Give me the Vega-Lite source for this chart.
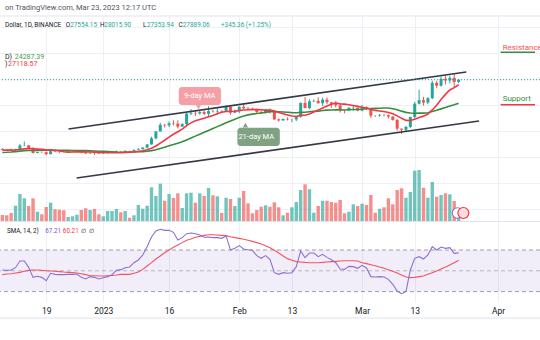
{
"$schema":"https://vega.github.io/schema/vega-lite/v6.json",
"width":540,"height":286,"autosize":"none",
"padding":{"top":16,"left":0,"right":0,"bottom":38},
"background":"#ffffff",
"config":{"view":{"stroke":null},"font":"Roboto","text":{"font":"Roboto"}},
"datasets":{
"one":[{}],
"ohlc":[
{"d":"2022-12-09","o":17227,"h":17360,"l":17061,"c":17127,"v":60,"m9":17034,"m21":16701,"r":50.8,"rm":46.3},
{"d":"2022-12-10","o":17128,"h":17227,"l":17087,"c":17120,"v":57,"m9":17050,"m21":16721,"r":50.4,"rm":46.9},
{"d":"2022-12-11","o":17120,"h":17270,"l":17071,"c":17085,"v":80,"m9":17050,"m21":16760,"r":50.8,"rm":47.2},
{"d":"2022-12-12","o":17085,"h":17241,"l":16871,"c":17209,"v":153,"m9":17086,"m21":16828,"r":53.0,"rm":47.9},
{"d":"2022-12-13","o":17209,"h":18000,"l":17081,"c":17775,"v":270,"m9":17160,"m21":16901,"r":59.4,"rm":48.5},
{"d":"2022-12-14","o":17775,"h":18387,"l":17660,"c":17803,"v":227,"m9":17253,"m21":16959,"r":59.4,"rm":49.5},
{"d":"2022-12-15","o":17803,"h":17846,"l":17275,"c":17356,"v":150,"m9":17283,"m21":16995,"r":53.3,"rm":50.4},
{"d":"2022-12-16","o":17356,"h":17531,"l":16527,"c":16632,"v":227,"m9":17260,"m21":17000,"r":43.7,"rm":50.8},
{"d":"2022-12-17","o":16632,"h":16796,"l":16584,"c":16776,"v":93,"m9":17210,"m21":17015,"r":44.7,"rm":50.8},
{"d":"2022-12-18","o":16776,"h":16864,"l":16663,"c":16738,"v":67,"m9":17167,"m21":17030,"r":43.7,"rm":50.4},
{"d":"2022-12-19","o":16738,"h":16820,"l":16256,"c":16438,"v":140,"m9":17090,"m21":17041,"r":40.5,"rm":50.1},
{"d":"2022-12-20","o":16438,"h":17061,"l":16398,"c":16895,"v":183,"m9":17069,"m21":17062,"r":47.6,"rm":49.8},
{"d":"2022-12-21","o":16895,"h":16918,"l":16735,"c":16824,"v":117,"m9":17026,"m21":17046,"r":46.6,"rm":49.5},
{"d":"2022-12-22","o":16824,"h":16868,"l":16559,"c":16821,"v":113,"m9":16920,"m21":17038,"r":46.3,"rm":49.2},
{"d":"2022-12-23","o":16821,"h":16955,"l":16755,"c":16778,"v":107,"m9":16806,"m21":17023,"r":46.3,"rm":48.8},
{"d":"2022-12-24","o":16778,"h":16869,"l":16765,"c":16837,"v":40,"m9":16749,"m21":17021,"r":46.6,"rm":48.5},
{"d":"2022-12-25","o":16837,"h":16869,"l":16733,"c":16842,"v":47,"m9":16772,"m21":17009,"r":46.6,"rm":48.2},
{"d":"2022-12-26","o":16842,"h":16944,"l":16789,"c":16919,"v":63,"m9":16788,"m21":17006,"r":46.9,"rm":47.9},
{"d":"2022-12-27","o":16919,"h":16972,"l":16592,"c":16706,"v":110,"m9":16784,"m21":16988,"r":43.7,"rm":47.2},
{"d":"2022-12-28","o":16706,"h":16785,"l":16465,"c":16547,"v":127,"m9":16797,"m21":16974,"r":42.1,"rm":46.3},
{"d":"2022-12-29","o":16547,"h":16664,"l":16488,"c":16633,"v":110,"m9":16767,"m21":16946,"r":44.4,"rm":45.3},
{"d":"2022-12-30","o":16633,"h":16677,"l":16333,"c":16607,"v":120,"m9":16743,"m21":16921,"r":43.7,"rm":45.3},
{"d":"2022-12-31","o":16607,"h":16644,"l":16470,"c":16542,"v":67,"m9":16712,"m21":16893,"r":42.1,"rm":45.0},
{"d":"2023-01-01","o":16542,"h":16628,"l":16499,"c":16616,"v":47,"m9":16694,"m21":16871,"r":43.4,"rm":45.0},
{"d":"2023-01-02","o":16616,"h":16799,"l":16548,"c":16673,"v":100,"m9":16676,"m21":16846,"r":44.4,"rm":45.3},
{"d":"2023-01-03","o":16673,"h":16779,"l":16600,"c":16679,"v":100,"m9":16658,"m21":16793,"r":46.3,"rm":45.6},
{"d":"2023-01-04","o":16679,"h":17000,"l":16647,"c":16850,"v":120,"m9":16650,"m21":16748,"r":50.4,"rm":46.0},
{"d":"2023-01-05","o":16850,"h":16887,"l":16754,"c":16831,"v":87,"m9":16664,"m21":16723,"r":51.1,"rm":46.6},
{"d":"2023-01-06","o":16831,"h":17041,"l":16679,"c":16951,"v":100,"m9":16709,"m21":16738,"r":53.0,"rm":46.6},
{"d":"2023-01-07","o":16951,"h":16975,"l":16908,"c":16946,"v":33,"m9":16744,"m21":16746,"r":53.7,"rm":46.6},
{"d":"2023-01-08","o":16946,"h":17176,"l":16912,"c":17091,"v":57,"m9":16798,"m21":16763,"r":57.8,"rm":47.6},
{"d":"2023-01-09","o":17091,"h":17398,"l":17091,"c":17196,"v":160,"m9":16870,"m21":16799,"r":60.4,"rm":48.8},
{"d":"2023-01-10","o":17196,"h":17499,"l":17161,"c":17446,"v":123,"m9":16963,"m21":16825,"r":65.2,"rm":51.4},
{"d":"2023-01-11","o":17446,"h":17992,"l":17315,"c":17934,"v":153,"m9":17103,"m21":16878,"r":73.2,"rm":54.6},
{"d":"2023-01-12","o":17934,"h":19117,"l":17892,"c":18869,"v":337,"m9":17346,"m21":16976,"r":82.5,"rm":57.8},
{"d":"2023-01-13","o":18869,"h":19974,"l":18713,"c":19930,"v":250,"m9":17688,"m21":17126,"r":88.3,"rm":61.3},
{"d":"2023-01-14","o":19930,"h":21258,"l":19889,"c":20954,"v":373,"m9":18146,"m21":17322,"r":89.9,"rm":64.2},
{"d":"2023-01-15","o":20954,"h":21050,"l":20551,"c":20871,"v":203,"m9":18582,"m21":17514,"r":88.9,"rm":67.4},
{"d":"2023-01-16","o":20871,"h":21474,"l":20611,"c":21185,"v":270,"m9":19053,"m21":17717,"r":88.9,"rm":70.0},
{"d":"2023-01-17","o":21185,"h":21647,"l":20841,"c":21133,"v":230,"m9":19502,"m21":17928,"r":87.0,"rm":72.6},
{"d":"2023-01-18","o":21133,"h":21650,"l":20407,"c":20677,"v":277,"m9":19889,"m21":18125,"r":79.6,"rm":74.8},
{"d":"2023-01-19","o":20677,"h":21192,"l":20659,"c":21071,"v":130,"m9":20292,"m21":18336,"r":81.9,"rm":77.1},
{"d":"2023-01-20","o":21071,"h":22755,"l":20861,"c":22667,"v":277,"m9":20817,"m21":18624,"r":85.7,"rm":79.3},
{"d":"2023-01-21","o":22667,"h":23372,"l":22422,"c":22783,"v":283,"m9":21252,"m21":18922,"r":86.3,"rm":80.6},
{"d":"2023-01-22","o":22783,"h":23078,"l":22292,"c":22707,"v":183,"m9":21561,"m21":19212,"r":85.7,"rm":82.2},
{"d":"2023-01-23","o":22707,"h":23180,"l":22500,"c":22916,"v":277,"m9":21779,"m21":19509,"r":84.4,"rm":83.1},
{"d":"2023-01-24","o":22916,"h":23162,"l":22462,"c":22633,"v":250,"m9":21975,"m21":19793,"r":82.2,"rm":84.1},
{"d":"2023-01-25","o":22633,"h":23816,"l":22293,"c":23060,"v":330,"m9":22183,"m21":20088,"r":82.5,"rm":84.7},
{"d":"2023-01-26","o":23060,"h":23282,"l":22850,"c":23009,"v":257,"m9":22391,"m21":20382,"r":81.9,"rm":84.7},
{"d":"2023-01-27","o":23009,"h":23500,"l":22534,"c":23074,"v":247,"m9":22658,"m21":20674,"r":81.9,"rm":84.4},
{"d":"2023-01-28","o":23074,"h":23189,"l":22878,"c":23022,"v":80,"m9":22875,"m21":20963,"r":81.2,"rm":84.1},
{"d":"2023-01-29","o":23022,"h":23960,"l":22978,"c":23743,"v":233,"m9":22994,"m21":21280,"r":83.5,"rm":83.8},
{"d":"2023-01-30","o":23743,"h":23800,"l":22500,"c":22827,"v":220,"m9":22999,"m21":21548,"r":70.0,"rm":82.8},
{"d":"2023-01-31","o":22827,"h":23320,"l":22715,"c":23125,"v":150,"m9":23045,"m21":21819,"r":71.6,"rm":81.9},
{"d":"2023-02-01","o":23125,"h":23812,"l":22760,"c":23732,"v":233,"m9":23136,"m21":22095,"r":74.2,"rm":81.2},
{"d":"2023-02-02","o":23732,"h":24255,"l":23363,"c":23488,"v":300,"m9":23231,"m21":22315,"r":71.0,"rm":80.3},
{"d":"2023-02-03","o":23488,"h":23715,"l":23204,"c":23431,"v":177,"m9":23272,"m21":22481,"r":70.3,"rm":79.3},
{"d":"2023-02-04","o":23431,"h":23587,"l":23253,"c":23326,"v":77,"m9":23308,"m21":22594,"r":69.7,"rm":78.3},
{"d":"2023-02-05","o":23326,"h":23433,"l":22745,"c":22932,"v":110,"m9":23292,"m21":22692,"r":64.6,"rm":77.1},
{"d":"2023-02-06","o":22932,"h":23158,"l":22628,"c":22762,"v":143,"m9":23263,"m21":22768,"r":62.0,"rm":75.8},
{"d":"2023-02-07","o":22762,"h":23350,"l":22745,"c":23240,"v":157,"m9":23207,"m21":22868,"r":64.6,"rm":74.2},
{"d":"2023-02-08","o":23240,"h":23452,"l":22665,"c":22963,"v":143,"m9":23222,"m21":22977,"r":61.0,"rm":72.2},
{"d":"2023-02-09","o":22963,"h":23011,"l":21688,"c":21796,"v":187,"m9":23074,"m21":23011,"r":48.2,"rm":69.7},
{"d":"2023-02-10","o":21796,"h":21939,"l":21451,"c":21625,"v":137,"m9":22840,"m21":22962,"r":46.6,"rm":67.1},
{"d":"2023-02-11","o":21625,"h":21906,"l":21599,"c":21862,"v":57,"m9":22660,"m21":22918,"r":48.2,"rm":64.2},
{"d":"2023-02-12","o":21862,"h":22090,"l":21630,"c":21783,"v":83,"m9":22477,"m21":22874,"r":47.6,"rm":61.7},
{"d":"2023-02-13","o":21783,"h":21894,"l":21351,"c":21790,"v":137,"m9":22306,"m21":22820,"r":48.2,"rm":60.1},
{"d":"2023-02-14","o":21790,"h":22319,"l":21532,"c":22199,"v":190,"m9":22224,"m21":22799,"r":54.0,"rm":58.8},
{"d":"2023-02-15","o":22199,"h":24380,"l":22047,"c":24324,"v":310,"m9":22398,"m21":22860,"r":69.0,"rm":58.5},
{"d":"2023-02-16","o":24324,"h":25250,"l":23505,"c":23517,"v":367,"m9":22429,"m21":22884,"r":62.6,"rm":58.1},
{"d":"2023-02-17","o":23517,"h":24867,"l":23339,"c":24569,"v":317,"m9":22607,"m21":22955,"r":67.1,"rm":57.8},
{"d":"2023-02-18","o":24569,"h":24877,"l":24450,"c":24631,"v":83,"m9":22922,"m21":23032,"r":67.1,"rm":57.8},
{"d":"2023-02-19","o":24631,"h":25192,"l":24192,"c":24271,"v":150,"m9":23216,"m21":23057,"r":63.6,"rm":57.8},
{"d":"2023-02-20","o":24271,"h":25121,"l":23840,"c":24827,"v":203,"m9":23546,"m21":23152,"r":65.8,"rm":58.1},
{"d":"2023-02-21","o":24827,"h":25126,"l":24149,"c":24436,"v":203,"m9":23840,"m21":23214,"r":62.9,"rm":58.5},
{"d":"2023-02-22","o":24436,"h":24476,"l":23574,"c":24188,"v":190,"m9":24107,"m21":23236,"r":60.7,"rm":58.8},
{"d":"2023-02-23","o":24188,"h":24600,"l":23608,"c":23947,"v":183,"m9":24301,"m21":23258,"r":57.8,"rm":59.1},
{"d":"2023-02-24","o":23947,"h":24132,"l":22841,"c":23198,"v":210,"m9":24176,"m21":23247,"r":51.7,"rm":59.4},
{"d":"2023-02-25","o":23198,"h":23219,"l":22722,"c":23175,"v":77,"m9":24138,"m21":23240,"r":51.4,"rm":59.7},
{"d":"2023-02-26","o":23175,"h":23689,"l":23059,"c":23561,"v":93,"m9":24026,"m21":23270,"r":54.3,"rm":59.7},
{"d":"2023-02-27","o":23561,"h":23879,"l":23106,"c":23590,"v":167,"m9":23910,"m21":23309,"r":54.0,"rm":59.7},
{"d":"2023-02-28","o":23590,"h":23600,"l":23020,"c":23147,"v":150,"m9":23785,"m21":23305,"r":52.4,"rm":59.4},
{"d":"2023-03-01","o":23147,"h":24000,"l":23021,"c":23646,"v":173,"m9":23654,"m21":23337,"r":55.3,"rm":57.8},
{"d":"2023-03-02","o":23646,"h":23780,"l":23195,"c":23475,"v":160,"m9":23547,"m21":23417,"r":52.7,"rm":56.9},
{"d":"2023-03-03","o":23475,"h":23479,"l":22000,"c":22362,"v":260,"m9":23345,"m21":23452,"r":44.4,"rm":55.9},
{"d":"2023-03-04","o":22362,"h":22410,"l":22156,"c":22354,"v":83,"m9":23168,"m21":23476,"r":44.0,"rm":54.9},
{"d":"2023-03-05","o":22354,"h":22614,"l":22199,"c":22436,"v":123,"m9":23083,"m21":23507,"r":44.4,"rm":53.7},
{"d":"2023-03-06","o":22436,"h":22603,"l":22258,"c":22429,"v":137,"m9":23000,"m21":23537,"r":44.0,"rm":52.4},
{"d":"2023-03-07","o":22429,"h":22555,"l":21928,"c":22216,"v":227,"m9":22851,"m21":23538,"r":41.8,"rm":51.1},
{"d":"2023-03-08","o":22216,"h":22268,"l":21580,"c":21705,"v":167,"m9":22641,"m21":23413,"r":37.0,"rm":49.5},
{"d":"2023-03-09","o":21705,"h":21834,"l":20042,"c":20363,"v":310,"m9":22332,"m21":23263,"r":30.6,"rm":47.9},
{"d":"2023-03-10","o":20363,"h":20367,"l":19549,"c":20187,"v":327,"m9":21947,"m21":23055,"r":28.0,"rm":46.0},
{"d":"2023-03-11","o":20187,"h":20792,"l":19903,"c":20633,"v":233,"m9":21632,"m21":22864,"r":29.9,"rm":44.0},
{"d":"2023-03-12","o":20633,"h":22185,"l":20446,"c":22163,"v":290,"m9":21610,"m21":22764,"r":50.8,"rm":43.4},
{"d":"2023-03-13","o":22163,"h":24500,"l":21918,"c":24198,"v":503,"m9":21814,"m21":22734,"r":62.0,"rm":43.7},
{"d":"2023-03-14","o":24198,"h":26386,"l":24081,"c":24746,"v":510,"m9":22071,"m21":22748,"r":63.6,"rm":44.4},
{"d":"2023-03-15","o":24746,"h":25250,"l":23896,"c":24375,"v":333,"m9":22287,"m21":22757,"r":61.3,"rm":45.0},
{"d":"2023-03-16","o":24375,"h":25196,"l":24123,"c":25055,"v":233,"m9":22603,"m21":22810,"r":65.2,"rm":46.6},
{"d":"2023-03-17","o":25055,"h":27756,"l":24885,"c":27423,"v":390,"m9":23238,"m21":23011,"r":73.2,"rm":48.2},
{"d":"2023-03-18","o":27423,"h":27725,"l":26578,"c":26965,"v":243,"m9":23972,"m21":23192,"r":70.0,"rm":49.8},
{"d":"2023-03-19","o":26965,"h":28390,"l":26827,"c":28038,"v":260,"m9":24844,"m21":23405,"r":72.9,"rm":51.7},
{"d":"2023-03-20","o":28038,"h":28528,"l":27156,"c":27767,"v":277,"m9":25637,"m21":23604,"r":71.6,"rm":53.7},
{"d":"2023-03-21","o":27767,"h":28500,"l":27325,"c":28175,"v":267,"m9":26305,"m21":23843,"r":72.2,"rm":55.6},
{"d":"2023-03-22","o":28175,"h":28868,"l":26601,"c":27544,"v":200,"m9":26676,"m21":24029,"r":66.8,"rm":57.8},
{"d":"2023-03-23","o":27554,"h":28016,"l":27354,"c":27889,"v":60,"m9":27118.57,"m21":24287.39,"r":67.21,"rm":60.21}
],
"channel":[
{"line":"upper","d":"2022-12-24T02:00:00Z","p":20308},
{"line":"upper","d":"2023-03-24T18:00:00Z","p":29077},
{"line":"lower","d":"2022-12-25T22:30:00Z","p":12769},
{"line":"lower","d":"2023-03-27T16:00:00Z","p":21538}
]
},
"resolve":{"scale":{"y":"independent"}},
"layer":[
{"data":{"name":"ohlc"},"mark":{"type":"tick","opacity":0},
 "encoding":{"x":{"field":"d","type":"temporal","scale":{"type":"utc","domain":[{"year":2022,"month":12,"date":9,"hours":14,"minutes":30,"utc":true},{"year":2023,"month":4,"date":9,"hours":10,"utc":true}],"nice":false},
   "axis":{"values":[{"year":2022,"month":12,"date":19,"utc":true},{"year":2023,"month":1,"date":1,"utc":true},{"year":2023,"month":1,"date":16,"utc":true},{"year":2023,"month":2,"date":1,"utc":true},{"year":2023,"month":2,"date":13,"utc":true},{"year":2023,"month":3,"date":1,"utc":true},{"year":2023,"month":3,"date":13,"utc":true},{"year":2023,"month":4,"date":1,"utc":true}],
   "labelExpr":"utcdate(datum.value) == 1 ? (utcmonth(datum.value) == 0 ? '2023' : utcFormat(datum.value, '%b')) : utcFormat(datum.value, '%d')",
   "grid":true,"gridColor":"#edf0f5","gridWidth":1,"domain":false,"ticks":false,"labelFontSize":8.5,"labelColor":"#131722","labelPadding":4,"labelFont":"Roboto","title":null,"labelOverlap":false,"labelFlush":false}}}},
{
"layer":[
{"data":{"name":"one"},"mark":{"type":"rect","color":"#7e57c2","opacity":0.1},
 "encoding":{"y":{"datum":30,"type":"quantitative","scale":{"domain":[20,295],"nice":false,"zero":false},"axis":null},"y2":{"datum":70}}},
{"data":{"name":"one"},"mark":{"type":"rule","color":"#787b86","strokeDash":[4,3],"strokeWidth":1,"opacity":0.7},
 "encoding":{"y":{"datum":70,"type":"quantitative","scale":{"domain":[20,295],"nice":false,"zero":false},"axis":null}}},
{"data":{"name":"one"},"mark":{"type":"rule","color":"#787b86","strokeDash":[4,3],"strokeWidth":1,"opacity":0.5},
 "encoding":{"y":{"datum":50,"type":"quantitative","scale":{"domain":[20,295],"nice":false,"zero":false},"axis":null}}},
{"data":{"name":"one"},"mark":{"type":"rule","color":"#787b86","strokeDash":[4,3],"strokeWidth":1,"opacity":0.7},
 "encoding":{"y":{"datum":30,"type":"quantitative","scale":{"domain":[20,295],"nice":false,"zero":false},"axis":null}}},
{"data":{"name":"one"},"mark":{"type":"rule","color":"#e0e3eb","strokeWidth":1},
 "encoding":{"y":{"datum":4.6,"type":"quantitative","scale":{"domain":[20,295],"nice":false,"zero":false},"axis":null}}},
{"data":{"name":"ohlc"},"mark":{"type":"line","color":"#f7525f","strokeWidth":1.1},
 "encoding":{"x":{"field":"d","type":"temporal","scale":{"type":"utc","domain":[{"year":2022,"month":12,"date":9,"hours":14,"minutes":30,"utc":true},{"year":2023,"month":4,"date":9,"hours":10,"utc":true}],"nice":false}},
 "y":{"field":"rm","type":"quantitative","scale":{"domain":[20,295],"nice":false,"zero":false},"axis":null}}},
{"data":{"name":"ohlc"},"mark":{"type":"line","color":"#8e6fd0","strokeWidth":1.1},
 "encoding":{"x":{"field":"d","type":"temporal","scale":{"type":"utc","domain":[{"year":2022,"month":12,"date":9,"hours":14,"minutes":30,"utc":true},{"year":2023,"month":4,"date":9,"hours":10,"utc":true}],"nice":false}},
 "y":{"field":"r","type":"quantitative","scale":{"domain":[20,295],"nice":false,"zero":false},"axis":null}}},
{"data":{"name":"one"},"mark":{"type":"text","text":"SMA, 14, 2)","align":"left","baseline":"middle","fontSize":6.3,"color":"#131722"},
 "encoding":{"x":{"datum":{"year":2022,"month":12,"date":10,"hours":1,"utc":true},"type":"temporal","scale":{"type":"utc","domain":[{"year":2022,"month":12,"date":9,"hours":14,"minutes":30,"utc":true},{"year":2023,"month":4,"date":9,"hours":10,"utc":true}],"nice":false}},
 "y":{"datum":88.6,"type":"quantitative","scale":{"domain":[20,295],"nice":false,"zero":false},"axis":null}}},
{"data":{"name":"one"},"mark":{"type":"text","text":"67.21","align":"left","baseline":"middle","fontSize":6.3,"color":"#7e57c2"},
 "encoding":{"x":{"datum":{"year":2022,"month":12,"date":18,"hours":19,"utc":true},"type":"temporal","scale":{"type":"utc","domain":[{"year":2022,"month":12,"date":9,"hours":14,"minutes":30,"utc":true},{"year":2023,"month":4,"date":9,"hours":10,"utc":true}],"nice":false}},
 "y":{"datum":88.6,"type":"quantitative","scale":{"domain":[20,295],"nice":false,"zero":false},"axis":null}}},
{"data":{"name":"one"},"mark":{"type":"text","text":"60.21","align":"left","baseline":"middle","fontSize":6.3,"color":"#f23645"},
 "encoding":{"x":{"datum":{"year":2022,"month":12,"date":22,"hours":19,"utc":true},"type":"temporal","scale":{"type":"utc","domain":[{"year":2022,"month":12,"date":9,"hours":14,"minutes":30,"utc":true},{"year":2023,"month":4,"date":9,"hours":10,"utc":true}],"nice":false}},
 "y":{"datum":88.6,"type":"quantitative","scale":{"domain":[20,295],"nice":false,"zero":false},"axis":null}}},
{"data":{"name":"one"},"mark":{"type":"text","text":"∅","align":"left","baseline":"middle","fontSize":6.3,"color":"#131722"},
 "encoding":{"x":{"datum":{"year":2022,"month":12,"date":26,"hours":20,"utc":true},"type":"temporal","scale":{"type":"utc","domain":[{"year":2022,"month":12,"date":9,"hours":14,"minutes":30,"utc":true},{"year":2023,"month":4,"date":9,"hours":10,"utc":true}],"nice":false}},
 "y":{"datum":88.6,"type":"quantitative","scale":{"domain":[20,295],"nice":false,"zero":false},"axis":null}}},
{"data":{"name":"one"},"mark":{"type":"text","text":"∅","align":"left","baseline":"middle","fontSize":6.3,"color":"#131722"},
 "encoding":{"x":{"datum":{"year":2022,"month":12,"date":28,"hours":20,"utc":true},"type":"temporal","scale":{"type":"utc","domain":[{"year":2022,"month":12,"date":9,"hours":14,"minutes":30,"utc":true},{"year":2023,"month":4,"date":9,"hours":10,"utc":true}],"nice":false}},
 "y":{"datum":88.6,"type":"quantitative","scale":{"domain":[20,295],"nice":false,"zero":false},"axis":null}}}
]
},
{
"layer":[
{"data":{"name":"ohlc"},"mark":{"type":"bar","size":3.4,"opacity":0.65},
 "encoding":{"x":{"field":"d","type":"temporal","scale":{"type":"utc","domain":[{"year":2022,"month":12,"date":9,"hours":14,"minutes":30,"utc":true},{"year":2023,"month":4,"date":9,"hours":10,"utc":true}],"nice":false}},
 "y":{"field":"v","type":"quantitative","scale":{"domain":[-810,2050],"nice":false,"zero":false},"axis":null},
 "y2":{"datum":0},
 "color":{"condition":{"test":"datum.c >= datum.o","value":"#26a69a"},"value":"#ef5350"}}},
{"data":{"name":"one"},"mark":{"type":"rule","color":"#e0e3eb","strokeWidth":1},
 "encoding":{"y":{"datum":-5,"type":"quantitative","scale":{"domain":[-810,2050],"nice":false,"zero":false},"axis":null}}},
{"data":{"name":"one"},"mark":{"type":"point","shape":"circle","filled":false,"color":"#9575cd","strokeWidth":1.2,"size":110,"fill":"#ffffff","fillOpacity":1},
 "encoding":{"x":{"datum":{"year":2023,"month":3,"date":22,"hours":18,"utc":true},"type":"temporal","scale":{"type":"utc","domain":[{"year":2022,"month":12,"date":9,"hours":14,"minutes":30,"utc":true},{"year":2023,"month":4,"date":9,"hours":10,"utc":true}],"nice":false}},
 "y":{"datum":80,"type":"quantitative","scale":{"domain":[-810,2050],"nice":false,"zero":false},"axis":null}}},
{"data":{"name":"one"},"mark":{"type":"point","shape":"circle","filled":false,"color":"#f23645","strokeWidth":1.2,"size":120,"fill":"#fcdcde","fillOpacity":1},
 "encoding":{"x":{"datum":{"year":2023,"month":3,"date":24,"hours":2,"utc":true},"type":"temporal","scale":{"type":"utc","domain":[{"year":2022,"month":12,"date":9,"hours":14,"minutes":30,"utc":true},{"year":2023,"month":4,"date":9,"hours":10,"utc":true}],"nice":false}},
 "y":{"datum":80,"type":"quantitative","scale":{"domain":[-810,2050],"nice":false,"zero":false},"axis":null}}}
]
},
{
"layer":[
{"data":{"name":"ohlc"},
 "mark":{"type":"rule","strokeWidth":1},
 "encoding":{"x":{"field":"d","type":"temporal","scale":{"type":"utc","domain":[{"year":2022,"month":12,"date":9,"hours":14,"minutes":30,"utc":true},{"year":2023,"month":4,"date":9,"hours":10,"utc":true}],"nice":false}},
 "y":{"field":"l","type":"quantitative","scale":{"domain":[-6308.6,37692.5],"nice":false,"zero":false},
   "axis":{"values":[8000,12000,16000,20000,24000,28000,32000,36000],"grid":true,"gridColor":"#edf0f5","gridWidth":1,"labels":false,"ticks":false,"domain":false,"title":null}},
 "y2":{"field":"h"},
 "color":{"condition":{"test":"datum.c >= datum.o","value":"#26a69a"},"value":"#ef5350"}}},
{"data":{"name":"ohlc"},
 "mark":{"type":"bar","size":3},
 "encoding":{"x":{"field":"d","type":"temporal","scale":{"type":"utc","domain":[{"year":2022,"month":12,"date":9,"hours":14,"minutes":30,"utc":true},{"year":2023,"month":4,"date":9,"hours":10,"utc":true}],"nice":false}},
 "y":{"field":"o","type":"quantitative","scale":{"domain":[-6308.6,37692.5],"nice":false,"zero":false}},
 "y2":{"field":"c"},
 "color":{"condition":{"test":"datum.c >= datum.o","value":"#26a69a"},"value":"#ef5350"}}},
{"data":{"name":"ohlc"},
 "mark":{"type":"line","color":"#388e3c","strokeWidth":1.6},
 "encoding":{"x":{"field":"d","type":"temporal","scale":{"type":"utc","domain":[{"year":2022,"month":12,"date":9,"hours":14,"minutes":30,"utc":true},{"year":2023,"month":4,"date":9,"hours":10,"utc":true}],"nice":false}},
 "y":{"field":"m21","type":"quantitative","scale":{"domain":[-6308.6,37692.5],"nice":false,"zero":false}}}},
{"data":{"name":"ohlc"},
 "mark":{"type":"line","color":"#f23645","strokeWidth":1.6},
 "encoding":{"x":{"field":"d","type":"temporal","scale":{"type":"utc","domain":[{"year":2022,"month":12,"date":9,"hours":14,"minutes":30,"utc":true},{"year":2023,"month":4,"date":9,"hours":10,"utc":true}],"nice":false}},
 "y":{"field":"m9","type":"quantitative","scale":{"domain":[-6308.6,37692.5],"nice":false,"zero":false}}}},
{"data":{"name":"channel"},
 "mark":{"type":"line","color":"#363a45","strokeWidth":1.6},
 "encoding":{"x":{"field":"d","type":"temporal","scale":{"type":"utc","domain":[{"year":2022,"month":12,"date":9,"hours":14,"minutes":30,"utc":true},{"year":2023,"month":4,"date":9,"hours":10,"utc":true}],"nice":false}},
 "y":{"field":"p","type":"quantitative","scale":{"domain":[-6308.6,37692.5],"nice":false,"zero":false}},
 "detail":{"field":"line"}}},
{"data":{"name":"one"},"mark":{"type":"rule","color":"#26a69a","strokeDash":[1,2],"strokeWidth":1},
 "encoding":{"y":{"datum":27889.06,"type":"quantitative","scale":{"domain":[-6308.6,37692.5],"nice":false,"zero":false}}}},
{"data":{"name":"one"},"mark":{"type":"rule","color":"#e0e3eb","strokeWidth":1},
 "encoding":{"y":{"datum":37692.5,"type":"quantitative","scale":{"domain":[-6308.6,37692.5],"nice":false,"zero":false}}}},
{"data":{"name":"one"},"mark":{"type":"rect","color":"#f5a0a6","cornerRadius":3},
 "encoding":{"x":{"datum":{"year":2023,"month":1,"date":18,"hours":5,"utc":true},"type":"temporal","scale":{"type":"utc","domain":[{"year":2022,"month":12,"date":9,"hours":14,"minutes":30,"utc":true},{"year":2023,"month":4,"date":9,"hours":10,"utc":true}],"nice":false}},
 "x2":{"datum":{"year":2023,"month":1,"date":27,"hours":20,"utc":true}},
 "y":{"datum":26769,"type":"quantitative","scale":{"domain":[-6308.6,37692.5],"nice":false,"zero":false}},
 "y2":{"datum":24000}}},
{"data":{"name":"one"},"mark":{"type":"point","shape":"triangle-down","filled":true,"color":"#f5a0a6","size":28,"opacity":1},
 "encoding":{"x":{"datum":{"year":2023,"month":1,"date":22,"hours":17,"utc":true},"type":"temporal","scale":{"type":"utc","domain":[{"year":2022,"month":12,"date":9,"hours":14,"minutes":30,"utc":true},{"year":2023,"month":4,"date":9,"hours":10,"utc":true}],"nice":false}},
 "y":{"datum":23650,"type":"quantitative","scale":{"domain":[-6308.6,37692.5],"nice":false,"zero":false}}}},
{"data":{"name":"one"},"mark":{"type":"text","text":"9-day MA","align":"center","baseline":"middle","fontSize":7.5,"color":"#ffffff"},
 "encoding":{"x":{"datum":{"year":2023,"month":1,"date":23,"utc":true},"type":"temporal","scale":{"type":"utc","domain":[{"year":2022,"month":12,"date":9,"hours":14,"minutes":30,"utc":true},{"year":2023,"month":4,"date":9,"hours":10,"utc":true}],"nice":false}},
 "y":{"datum":25385,"type":"quantitative","scale":{"domain":[-6308.6,37692.5],"nice":false,"zero":false}}}},
{"data":{"name":"one"},"mark":{"type":"rect","color":"#7fa282","cornerRadius":3},
 "encoding":{"x":{"datum":{"year":2023,"month":1,"date":31,"hours":14,"utc":true},"type":"temporal","scale":{"type":"utc","domain":[{"year":2022,"month":12,"date":9,"hours":14,"minutes":30,"utc":true},{"year":2023,"month":4,"date":9,"hours":10,"utc":true}],"nice":false}},
 "x2":{"datum":{"year":2023,"month":2,"date":10,"hours":6,"utc":true}},
 "y":{"datum":20507,"type":"quantitative","scale":{"domain":[-6308.6,37692.5],"nice":false,"zero":false}},
 "y2":{"datum":17692}}},
{"data":{"name":"one"},"mark":{"type":"point","shape":"triangle-up","filled":true,"color":"#7fa282","size":28,"opacity":1},
 "encoding":{"x":{"datum":{"year":2023,"month":2,"date":2,"hours":10,"utc":true},"type":"temporal","scale":{"type":"utc","domain":[{"year":2022,"month":12,"date":9,"hours":14,"minutes":30,"utc":true},{"year":2023,"month":4,"date":9,"hours":10,"utc":true}],"nice":false}},
 "y":{"datum":20900,"type":"quantitative","scale":{"domain":[-6308.6,37692.5],"nice":false,"zero":false}}}},
{"data":{"name":"one"},"mark":{"type":"text","text":"21-day MA","align":"center","baseline":"middle","fontSize":7.5,"color":"#ffffff"},
 "encoding":{"x":{"datum":{"year":2023,"month":2,"date":4,"hours":21,"utc":true},"type":"temporal","scale":{"type":"utc","domain":[{"year":2022,"month":12,"date":9,"hours":14,"minutes":30,"utc":true},{"year":2023,"month":4,"date":9,"hours":10,"utc":true}],"nice":false}},
 "y":{"datum":19100,"type":"quantitative","scale":{"domain":[-6308.6,37692.5],"nice":false,"zero":false}}}},
{"data":{"name":"one"},"mark":{"type":"text","text":"Resistance","align":"left","baseline":"middle","fontSize":8,"color":"#f7525f"},
 "encoding":{"x":{"datum":{"year":2023,"month":4,"date":2,"hours":1,"utc":true},"type":"temporal","scale":{"type":"utc","domain":[{"year":2022,"month":12,"date":9,"hours":14,"minutes":30,"utc":true},{"year":2023,"month":4,"date":9,"hours":10,"utc":true}],"nice":false}},
 "y":{"datum":32846,"type":"quantitative","scale":{"domain":[-6308.6,37692.5],"nice":false,"zero":false}}}},
{"data":{"name":"one"},"mark":{"type":"rule","color":"#388e3c","strokeWidth":1.5},
 "encoding":{"x":{"datum":{"year":2023,"month":4,"date":1,"hours":14,"utc":true},"type":"temporal","scale":{"type":"utc","domain":[{"year":2022,"month":12,"date":9,"hours":14,"minutes":30,"utc":true},{"year":2023,"month":4,"date":9,"hours":10,"utc":true}],"nice":false}},
 "x2":{"datum":{"year":2023,"month":4,"date":9,"hours":10,"utc":true}},
 "y":{"datum":32108,"type":"quantitative","scale":{"domain":[-6308.6,37692.5],"nice":false,"zero":false}}}},
{"data":{"name":"one"},"mark":{"type":"text","text":"Support","align":"left","baseline":"middle","fontSize":8,"color":"#388e3c"},
 "encoding":{"x":{"datum":{"year":2023,"month":4,"date":2,"hours":1,"utc":true},"type":"temporal","scale":{"type":"utc","domain":[{"year":2022,"month":12,"date":9,"hours":14,"minutes":30,"utc":true},{"year":2023,"month":4,"date":9,"hours":10,"utc":true}],"nice":false}},
 "y":{"datum":24923,"type":"quantitative","scale":{"domain":[-6308.6,37692.5],"nice":false,"zero":false}}}},
{"data":{"name":"one"},"mark":{"type":"rule","color":"#f23645","strokeWidth":1.5},
 "encoding":{"x":{"datum":{"year":2023,"month":4,"date":1,"hours":14,"utc":true},"type":"temporal","scale":{"type":"utc","domain":[{"year":2022,"month":12,"date":9,"hours":14,"minutes":30,"utc":true},{"year":2023,"month":4,"date":9,"hours":10,"utc":true}],"nice":false}},
 "x2":{"datum":{"year":2023,"month":4,"date":9,"hours":10,"utc":true}},
 "y":{"datum":24031,"type":"quantitative","scale":{"domain":[-6308.6,37692.5],"nice":false,"zero":false}}}},
{"data":{"name":"one"},"mark":{"type":"text","text":"on TradingView.com, Mar 23, 2023 12:17 UTC","align":"left","baseline":"middle","fontSize":7.5,"color":"#50535e"},
 "encoding":{"x":{"datum":{"year":2022,"month":12,"date":9,"hours":14,"minutes":30,"utc":true},"type":"temporal","scale":{"type":"utc","domain":[{"year":2022,"month":12,"date":9,"hours":14,"minutes":30,"utc":true},{"year":2023,"month":4,"date":9,"hours":10,"utc":true}],"nice":false}},
 "y":{"datum":38923,"type":"quantitative","scale":{"domain":[-6308.6,37692.5],"nice":false,"zero":false}}}},
{"data":{"name":"one"},"mark":{"type":"text","text":"Dollar, 1D, BINANCE","align":"left","baseline":"middle","fontSize":6.4,"color":"#131722"},
 "encoding":{"x":{"datum":{"year":2022,"month":12,"date":9,"hours":14,"minutes":30,"utc":true},"type":"temporal","scale":{"type":"utc","domain":[{"year":2022,"month":12,"date":9,"hours":14,"minutes":30,"utc":true},{"year":2023,"month":4,"date":9,"hours":10,"utc":true}],"nice":false}},
 "y":{"datum":36308,"type":"quantitative","scale":{"domain":[-6308.6,37692.5],"nice":false,"zero":false}}}},
{"data":{"name":"one"},"mark":{"type":"text","text":"O","align":"left","baseline":"middle","fontSize":6.4,"color":"#131722"},
 "encoding":{"x":{"datum":{"year":2022,"month":12,"date":23,"hours":11,"utc":true},"type":"temporal","scale":{"type":"utc","domain":[{"year":2022,"month":12,"date":9,"hours":14,"minutes":30,"utc":true},{"year":2023,"month":4,"date":9,"hours":10,"utc":true}],"nice":false}},
 "y":{"datum":36308,"type":"quantitative","scale":{"domain":[-6308.6,37692.5],"nice":false,"zero":false}}}},
{"data":{"name":"one"},"mark":{"type":"text","text":"27554.15","align":"left","baseline":"middle","fontSize":6.4,"color":"#26a69a"},
 "encoding":{"x":{"datum":{"year":2022,"month":12,"date":24,"hours":11,"utc":true},"type":"temporal","scale":{"type":"utc","domain":[{"year":2022,"month":12,"date":9,"hours":14,"minutes":30,"utc":true},{"year":2023,"month":4,"date":9,"hours":10,"utc":true}],"nice":false}},
 "y":{"datum":36308,"type":"quantitative","scale":{"domain":[-6308.6,37692.5],"nice":false,"zero":false}}}},
{"data":{"name":"one"},"mark":{"type":"text","text":"H","align":"left","baseline":"middle","fontSize":6.4,"color":"#131722"},
 "encoding":{"x":{"datum":{"year":2022,"month":12,"date":31,"hours":6,"utc":true},"type":"temporal","scale":{"type":"utc","domain":[{"year":2022,"month":12,"date":9,"hours":14,"minutes":30,"utc":true},{"year":2023,"month":4,"date":9,"hours":10,"utc":true}],"nice":false}},
 "y":{"datum":36308,"type":"quantitative","scale":{"domain":[-6308.6,37692.5],"nice":false,"zero":false}}}},
{"data":{"name":"one"},"mark":{"type":"text","text":"28015.90","align":"left","baseline":"middle","fontSize":6.4,"color":"#26a69a"},
 "encoding":{"x":{"datum":{"year":2023,"month":1,"date":1,"hours":6,"utc":true},"type":"temporal","scale":{"type":"utc","domain":[{"year":2022,"month":12,"date":9,"hours":14,"minutes":30,"utc":true},{"year":2023,"month":4,"date":9,"hours":10,"utc":true}],"nice":false}},
 "y":{"datum":36308,"type":"quantitative","scale":{"domain":[-6308.6,37692.5],"nice":false,"zero":false}}}},
{"data":{"name":"one"},"mark":{"type":"text","text":"L","align":"left","baseline":"middle","fontSize":6.4,"color":"#131722"},
 "encoding":{"x":{"datum":{"year":2023,"month":1,"date":10,"hours":2,"utc":true},"type":"temporal","scale":{"type":"utc","domain":[{"year":2022,"month":12,"date":9,"hours":14,"minutes":30,"utc":true},{"year":2023,"month":4,"date":9,"hours":10,"utc":true}],"nice":false}},
 "y":{"datum":36308,"type":"quantitative","scale":{"domain":[-6308.6,37692.5],"nice":false,"zero":false}}}},
{"data":{"name":"one"},"mark":{"type":"text","text":"27353.94","align":"left","baseline":"middle","fontSize":6.4,"color":"#26a69a"},
 "encoding":{"x":{"datum":{"year":2023,"month":1,"date":10,"hours":23,"utc":true},"type":"temporal","scale":{"type":"utc","domain":[{"year":2022,"month":12,"date":9,"hours":14,"minutes":30,"utc":true},{"year":2023,"month":4,"date":9,"hours":10,"utc":true}],"nice":false}},
 "y":{"datum":36308,"type":"quantitative","scale":{"domain":[-6308.6,37692.5],"nice":false,"zero":false}}}},
{"data":{"name":"one"},"mark":{"type":"text","text":"C","align":"left","baseline":"middle","fontSize":6.4,"color":"#131722"},
 "encoding":{"x":{"datum":{"year":2023,"month":1,"date":18,"hours":3,"utc":true},"type":"temporal","scale":{"type":"utc","domain":[{"year":2022,"month":12,"date":9,"hours":14,"minutes":30,"utc":true},{"year":2023,"month":4,"date":9,"hours":10,"utc":true}],"nice":false}},
 "y":{"datum":36308,"type":"quantitative","scale":{"domain":[-6308.6,37692.5],"nice":false,"zero":false}}}},
{"data":{"name":"one"},"mark":{"type":"text","text":"27889.06","align":"left","baseline":"middle","fontSize":6.4,"color":"#26a69a"},
 "encoding":{"x":{"datum":{"year":2023,"month":1,"date":19,"hours":3,"utc":true},"type":"temporal","scale":{"type":"utc","domain":[{"year":2022,"month":12,"date":9,"hours":14,"minutes":30,"utc":true},{"year":2023,"month":4,"date":9,"hours":10,"utc":true}],"nice":false}},
 "y":{"datum":36308,"type":"quantitative","scale":{"domain":[-6308.6,37692.5],"nice":false,"zero":false}}}},
{"data":{"name":"one"},"mark":{"type":"text","text":"+345.36 (+1.25%)","align":"left","baseline":"middle","fontSize":6.4,"color":"#26a69a"},
 "encoding":{"x":{"datum":{"year":2023,"month":1,"date":27,"hours":20,"utc":true},"type":"temporal","scale":{"type":"utc","domain":[{"year":2022,"month":12,"date":9,"hours":14,"minutes":30,"utc":true},{"year":2023,"month":4,"date":9,"hours":10,"utc":true}],"nice":false}},
 "y":{"datum":36308,"type":"quantitative","scale":{"domain":[-6308.6,37692.5],"nice":false,"zero":false}}}},
{"data":{"name":"one"},"mark":{"type":"text","text":"D)","align":"left","baseline":"middle","fontSize":7,"color":"#131722"},
 "encoding":{"x":{"datum":{"year":2022,"month":12,"date":9,"hours":14,"minutes":30,"utc":true},"type":"temporal","scale":{"type":"utc","domain":[{"year":2022,"month":12,"date":9,"hours":14,"minutes":30,"utc":true},{"year":2023,"month":4,"date":9,"hours":10,"utc":true}],"nice":false}},
 "y":{"datum":31385,"type":"quantitative","scale":{"domain":[-6308.6,37692.5],"nice":false,"zero":false}}}},
{"data":{"name":"one"},"mark":{"type":"text","text":"24287.39","align":"left","baseline":"middle","fontSize":7,"color":"#43a047"},
 "encoding":{"x":{"datum":{"year":2022,"month":12,"date":11,"hours":20,"utc":true},"type":"temporal","scale":{"type":"utc","domain":[{"year":2022,"month":12,"date":9,"hours":14,"minutes":30,"utc":true},{"year":2023,"month":4,"date":9,"hours":10,"utc":true}],"nice":false}},
 "y":{"datum":31385,"type":"quantitative","scale":{"domain":[-6308.6,37692.5],"nice":false,"zero":false}}}},
{"data":{"name":"one"},"mark":{"type":"text","text":")","align":"left","baseline":"middle","fontSize":7,"color":"#131722"},
 "encoding":{"x":{"datum":{"year":2022,"month":12,"date":9,"hours":14,"minutes":30,"utc":true},"type":"temporal","scale":{"type":"utc","domain":[{"year":2022,"month":12,"date":9,"hours":14,"minutes":30,"utc":true},{"year":2023,"month":4,"date":9,"hours":10,"utc":true}],"nice":false}},
 "y":{"datum":30231,"type":"quantitative","scale":{"domain":[-6308.6,37692.5],"nice":false,"zero":false}}}},
{"data":{"name":"one"},"mark":{"type":"text","text":"27118.57","align":"left","baseline":"middle","fontSize":7,"color":"#f23645"},
 "encoding":{"x":{"datum":{"year":2022,"month":12,"date":10,"hours":7,"utc":true},"type":"temporal","scale":{"type":"utc","domain":[{"year":2022,"month":12,"date":9,"hours":14,"minutes":30,"utc":true},{"year":2023,"month":4,"date":9,"hours":10,"utc":true}],"nice":false}},
 "y":{"datum":30231,"type":"quantitative","scale":{"domain":[-6308.6,37692.5],"nice":false,"zero":false}}}}
]
}
]
}
